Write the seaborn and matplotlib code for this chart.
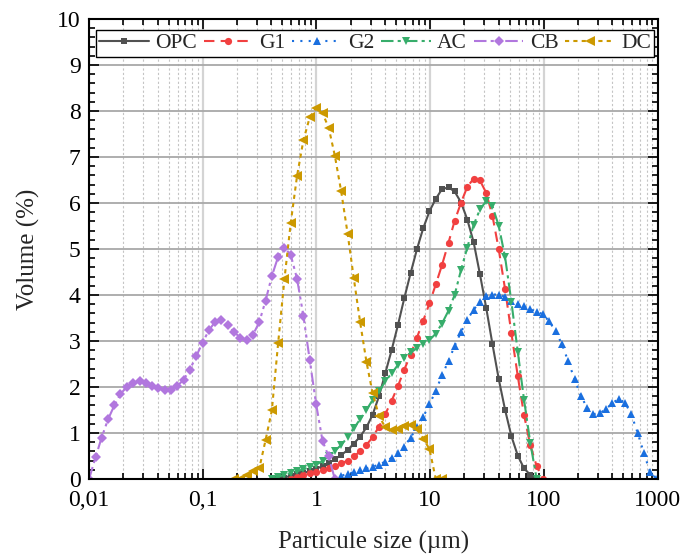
import matplotlib
matplotlib.use("Agg")
import matplotlib.pyplot as plt
from matplotlib.ticker import FixedLocator, FixedFormatter, LogLocator, NullFormatter, MultipleLocator
from matplotlib.lines import Line2D
import pandas as pd
import seaborn as sns

# Laser-diffraction size classes (µm)
SIZE_UM = [
    0.0100, 0.0114, 0.0129, 0.0147, 0.0167, 0.0189, 0.0215, 0.0244, 0.0278, 0.0315,
    0.0358, 0.0407, 0.0463, 0.0526, 0.0597, 0.0679, 0.0771, 0.0876, 0.0995, 0.113,
    0.128, 0.146, 0.166, 0.188, 0.214, 0.243, 0.276, 0.314, 0.357, 0.405,
    0.460, 0.523, 0.594, 0.675, 0.767, 0.872, 0.991, 1.13, 1.28, 1.45,
    1.65, 1.88, 2.13, 2.42, 2.75, 3.12, 3.55, 4.03, 4.58, 5.21,
    5.92, 6.72, 7.64, 8.68, 9.86, 11.2, 12.7, 14.5, 16.4, 18.7,
    21.2, 24.1, 27.4, 31.1, 35.3, 40.1, 45.6, 51.8, 58.9, 66.9,
    76.0, 86.4, 98.1, 111, 127, 144, 163, 186, 211, 240,
    272, 310, 352, 400, 454, 516, 586, 666, 756, 859, 976,
]

# Volume fractions (%) per sample; each starts at the given size-class index
OPC_START = 30
OPC = [0, 0.03, 0.07, 0.10, 0.13, 0.17, 0.22, 0.28, 0.35, 0.43,
       0.52, 0.63, 0.77, 0.92, 1.12, 1.40, 1.80, 2.30, 2.80, 3.35,
       3.93, 4.47, 4.99, 5.45, 5.82, 6.09, 6.30, 6.34, 6.25, 6.01,
       5.64, 5.15, 4.45, 3.72, 2.93, 2.17, 1.50, 0.93, 0.51, 0.23,
       0.09, 0]

G1_START = 32
G1 = [0, 0.04, 0.08, 0.12, 0.16, 0.19, 0.23, 0.28, 0.34, 0.40,
      0.49, 0.60, 0.74, 0.91, 1.14, 1.41, 1.70, 2.02, 2.38, 2.70,
      3.07, 3.44, 3.82, 4.23, 4.65, 5.14, 5.61, 6.01, 6.35, 6.53,
      6.49, 6.22, 5.72, 4.99, 4.12, 3.17, 2.24, 1.39, 0.73, 0.28, 0]

G2_START = 39
G2 = [0, 0.07, 0.11, 0.15, 0.19, 0.23, 0.27, 0.31, 0.38, 0.46,
      0.56, 0.70, 0.90, 1.12, 1.35, 1.62, 1.92, 2.25, 2.57, 2.89,
      3.20, 3.46, 3.68, 3.85, 3.98, 4.01, 4.01, 3.96, 3.87, 3.80,
      3.75, 3.69, 3.64, 3.58, 3.43, 3.21, 2.93, 2.57, 2.17, 1.81,
      1.55, 1.41, 1.43, 1.52, 1.65, 1.74, 1.66, 1.41, 1.01, 0.57,
      0.15, 0]

AC_START = 29
AC = [0, 0.05, 0.09, 0.13, 0.17, 0.21, 0.26, 0.31, 0.39, 0.49,
      0.61, 0.74, 0.91, 1.10, 1.30, 1.50, 1.72, 1.91, 2.12, 2.30,
      2.48, 2.62, 2.75, 2.84, 2.93, 3.02, 3.16, 3.38, 3.66, 4.00,
      4.55, 5.03, 5.52, 5.86, 6.04, 5.93, 5.50, 4.82, 3.85, 2.77,
      1.72, 0.78, 0]

CB_START = 0
CB = [0, 0.47, 0.90, 1.30, 1.60, 1.85, 2.00, 2.09, 2.12, 2.08,
      2.03, 1.97, 1.93, 1.94, 2.02, 2.16, 2.38, 2.67, 2.96, 3.23,
      3.41, 3.46, 3.35, 3.20, 3.07, 3.02, 3.13, 3.41, 3.88, 4.41,
      4.83, 5.03, 4.87, 4.35, 3.55, 2.59, 1.64, 0.83, 0.49, 0]

DC_START = 23
DC = [0, 0.01, 0.08, 0.17, 0.23, 0.85, 1.49, 2.95, 4.35, 5.57,
      6.59, 7.36, 7.86, 8.06, 7.95, 7.64, 7.03, 6.25, 5.33, 4.36,
      3.41, 2.55, 1.86, 1.37, 1.12, 1.07, 1.09, 1.15, 1.17, 1.08,
      0.88, 0.65, 0, 0]

X_TICKS = [0.01, 0.1, 1, 10, 100, 1000]
X_TICK_LABELS = ["0,01", "0,1", "1", "10", "100", "1000"]

sns.set_theme(style="ticks")
plt.rcParams["font.family"] = ["Liberation Serif", "DejaVu Serif"]

fig, ax = plt.subplots(figsize=(6.85, 5.58), dpi=100)
fig.subplots_adjust(left=0.130, right=0.960, bottom=0.1416, top=0.966)

series = [
    ("OPC", OPC_START, OPC, "#515151", "s", 4.8, "-"),
    ("G1", G1_START, G1, "#F14040", "o", 5.2, (0, (5, 3))),
    ("G2", G2_START, G2, "#1A6FDF", "^", 6.3, (0, (1, 3))),
    ("AC", AC_START, AC, "#37AD6B", "v", 6.3, (0, (6, 2, 1.5, 2))),
    ("CB", CB_START, CB, "#B177DE", "D", 5.0, (0, (6, 2, 1.5, 2, 1.5, 2))),
    ("DC", DC_START, DC, "#CC9900", "<", 6.5, (0, (2, 2))),
]

handles = []
for name, start, vals, color, marker, msize, ls in series:
    df = pd.DataFrame({"size": SIZE_UM[start:start + len(vals)], "volume": vals})
    sns.lineplot(data=df, x="size", y="volume", ax=ax, color=color,
                 marker=marker, markersize=msize, markeredgewidth=0,
                 linestyle=ls, linewidth=1.5, estimator=None, sort=False,
                 errorbar=None)
    handles.append(Line2D([], [], color=color, marker=marker, markersize=msize,
                          markeredgewidth=0, linestyle=ls, linewidth=1.5, label=name))

ax.set_xscale("log")
ax.set_xlim(0.01, 1000)
ax.set_ylim(0, 10)

ax.xaxis.set_major_locator(FixedLocator(X_TICKS))
ax.xaxis.set_major_formatter(FixedFormatter(X_TICK_LABELS))
ax.xaxis.set_minor_locator(LogLocator(base=10, subs=range(2, 10), numticks=20))
ax.xaxis.set_minor_formatter(NullFormatter())
ax.yaxis.set_major_locator(MultipleLocator(1))
ax.yaxis.set_minor_locator(MultipleLocator(0.2))

ax.tick_params(which="both", direction="in", top=True, right=True,
               colors="black", width=1.2, labelsize=17)
ax.tick_params(which="major", length=7)
ax.tick_params(which="minor", length=4)
ax.tick_params(axis="x", which="major", pad=8)
ax.tick_params(axis="y", which="major", pad=6)

ax.set_axisbelow(True)
ax.yaxis.grid(True, which="major", color="#a8a8a8", linewidth=1.3)
ax.xaxis.grid(True, which="major", color="#d4d4d4", linewidth=1.6)
ax.xaxis.grid(True, which="minor", color="#c4c4c4", linewidth=0.8, linestyle=(0, (2, 2)))

for sp in ax.spines.values():
    sp.set_color("black")
    sp.set_linewidth(1.5)

ax.set_xlabel("Particule size (µm)", fontsize=18, labelpad=14)
ax.set_ylabel("Volume (%)", fontsize=18, labelpad=12)

leg = ax.legend(handles=handles, loc="upper left", ncol=6, mode="expand",
                bbox_to_anchor=(0.012, 0, 0.982, 0.976), borderaxespad=0,
                fontsize=15.5, handlelength=2.3, handletextpad=0.3,
                borderpad=0.15, fancybox=False, framealpha=1, edgecolor="black")
leg.get_frame().set_linewidth(1.0)

fig.savefig("out.png", dpi=100)
